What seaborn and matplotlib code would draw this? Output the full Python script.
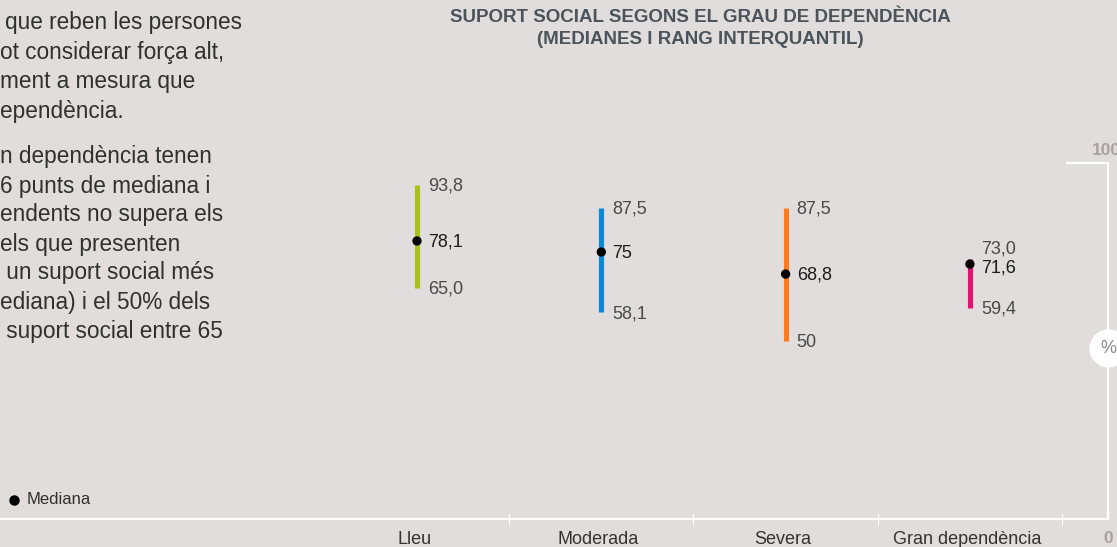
import matplotlib
matplotlib.use('Agg')
import matplotlib.pyplot as plt
import numpy as np
import pandas as pd
import seaborn as sns

# dades
categories = ['Lleu', 'Moderada', 'Severa', 'Gran dependència']
q1 = [65.0, 58.1, 50.0, 59.4]
medians = [78.1, 75.0, 68.8, 71.6]
q3 = [93.8, 87.5, 87.5, 73.0]
q1_labels = ['65,0', '58,1', '50', '59,4']
median_labels = ['78,1', '75', '68,8', '71,6']
q3_labels = ['93,8', '87,5', '87,5', '73,0']
bar_colors = ['#a9c11c', '#0b87d9', '#ff7a1c', '#e1146f']

title = 'SUPORT SOCIAL SEGONS EL GRAU DE DEPENDÈNCIA\n(MEDIANES I RANG INTERQUANTIL)'
paragraph = ['que reben les persones', 'ot considerar força alt,', 'ment a mesura que',
             'ependència.', 'n dependència tenen', '6 punts de mediana i',
             'endents no supera els', 'els que presenten', ' un suport social més',
             'ediana) i el 50% dels', ' suport social entre 65']

BG = '#e0dddc'
W, H = 1117, 547

sns.set_theme(style='white', rc={'figure.facecolor': BG, 'axes.facecolor': BG})
plt.rcParams['font.family'] = ['Liberation Sans', 'DejaVu Sans']

df = pd.DataFrame({'grau': categories, 'q1': q1, 'mediana': medians, 'q3': q3})
df['pos'] = np.arange(len(df))

fig = plt.figure(figsize=(W / 100, H / 100), dpi=100)
# eixos: de x=0 a x=1108 px, y de 519 (0) a 163 (100)
ax = fig.add_axes([0, (H - 519) / H, 1108 / W, (519 - 163) / H])
step = 184.3
ax.set_xlim(-417 / step, (1108 - 417) / step)
ax.set_ylim(0, 100)

# rang interquartil
ax.vlines(df['pos'], df['q1'], df['q3'], colors=bar_colors, lw=3.7, capstyle='butt', zorder=2)
# medianes
sns.scatterplot(data=df, x='pos', y='mediana', color='black', s=45, edgecolor='none',
                ax=ax, zorder=3, legend=False)

top_dy = [0, 0, 0, 8]
med_dy = [0, 0, 0, -2]
for i, row in df.iterrows():
    ax.annotate(q3_labels[i], (row['pos'], row['q3']), xytext=(8, top_dy[i] - 1),
                textcoords='offset points', ha='left', va='center', fontsize=13, color='#4a4a4a')
    ax.annotate(median_labels[i], (row['pos'], row['mediana']), xytext=(8, med_dy[i] - 1),
                textcoords='offset points', ha='left', va='center', fontsize=13, color='#1c1c1c')
    ax.annotate(q1_labels[i], (row['pos'], row['q1']), xytext=(8, -1),
                textcoords='offset points', ha='left', va='center', fontsize=13, color='#4a4a4a')
    ax.annotate(row['grau'], (row['pos'], 0), xytext=(-2, -14.5),
                textcoords='offset points', ha='center', va='center', fontsize=13,
                color='#333333', annotation_clip=False)

# eixos i marques
for s in ['top', 'left']:
    ax.spines[s].set_visible(False)
for s in ['bottom', 'right']:
    ax.spines[s].set_color('white')
    ax.spines[s].set_linewidth(1.6)
ax.set_xticks(np.arange(len(categories)) + 0.5)
ax.set_xticklabels([])
ax.set_yticks([])
ax.tick_params(axis='x', direction='inout', length=8, width=0.8, color='white', bottom=True)
ax.set_xlabel('')
ax.set_ylabel('')

xr = (1108 - 417) / step
ax.plot([(1066 - 417) / step, xr], [100, 100], color='white', lw=1.6, clip_on=False,
        solid_capstyle='butt')
ax.scatter([xr], [48], s=700, color='white', clip_on=False, zorder=4)
ax.text(xr, 48, '%', ha='center', va='center', fontsize=13, color='#8f8a8a', zorder=5)
ax.annotate('100', ((1092 - 417) / step, 100), xytext=(0, 9), textcoords='offset points',
            ha='left', va='center', fontsize=12.5, fontweight='bold', color='#a7a1a1',
            annotation_clip=False)
ax.annotate('0', ((1103 - 417) / step, 0), xytext=(0, -14), textcoords='offset points',
            ha='left', va='center', fontsize=12.5, fontweight='bold', color='#a7a1a1',
            annotation_clip=False)

# títol
fig.text(700 / W, 1 - 9 / H, title, ha='center', va='top', fontsize=13.5,
         fontweight='bold', color='#4b545a', linespacing=1.35)

# text lateral
baselines = [29, 59, 88, 118, 163, 193, 221, 251, 279, 309, 338]
xs = [5, 0, 0, 0, 0, 0, 0, 0, 0, 0, 0]
for txt, yb, xx in zip(paragraph, baselines, xs):
    fig.text(xx / W, 1 - yb / H, txt, ha='left', va='baseline', fontsize=16.3, color='#303030')

# llegenda
fig.text(27 / W, 1 - 500 / H, 'Mediana', ha='left', va='center', fontsize=12, color='#303030')
fig.add_artist(plt.Line2D([13.6 / W], [1 - 500 / H], marker='o', markersize=6.5,
                          color='black', transform=fig.transFigure))

fig.savefig('out.png', dpi=100, facecolor=BG)
